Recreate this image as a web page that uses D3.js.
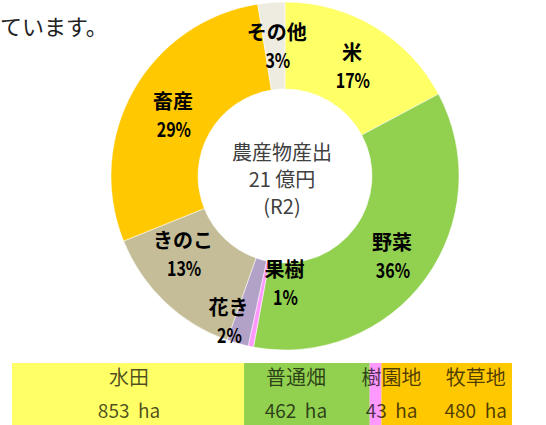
<!DOCTYPE html>
<html>
<head>
<meta charset="utf-8">
<script src="https://cdn.jsdelivr.net/npm/d3@7"></script>
<style>
  body { margin: 0; background: #fff; }
  svg { display: block; font-family: "Noto Sans CJK JP", "Noto Sans", sans-serif; }
</style>
</head>
<body>
<div id="chart"></div>
<script>
// donut data (share of output)
var categories = ["米", "野菜", "果樹", "花き", "きのこ", "畜産", "その他"];
var shares = [17.2, 35.7, 0.5, 2.0, 13.5, 28.6, 2.5];
var pctLabels = ["17%", "36%", "1%", "2%", "13%", "29%", "3%"];
var colors = ["#FFFF66", "#92D050", "#FF99FF", "#B3A2C7", "#C4BD97", "#FFC800", "#EEECE1"];

// land use bar
var landNames = ["水田", "普通畑", "樹園地", "牧草地"];
var landArea = [853, 462, 43, 480];
var landColors = ["#FFFF66", "#92D050", "#FF99FF", "#FFC800"];

var centerLines = ["農産物産出", "21 億円", "(R2)"];

var width = 546, height = 425;

var svg = d3.select("#chart").append("svg")
    .attr("width", width)
    .attr("height", height);

// cut-off sentence from the page
svg.append("text")
    .attr("x", 0)
    .attr("y", 35)
    .attr("font-size", 22)
    .attr("fill", "#222")
    .text("ています。");

// donut
var cx = 285, cy = 176;
var pie = d3.pie().sort(null).value(function (d) { return d; });
var arc = d3.arc().innerRadius(87).outerRadius(174);
var labelArc = d3.arc().innerRadius(130).outerRadius(130);

var g = svg.append("g").attr("transform", "translate(" + cx + "," + cy + ")");
var arcs = pie(shares);

g.selectAll("path")
    .data(arcs)
    .enter()
    .append("path")
    .attr("d", arc)
    .attr("fill", function (d, i) { return colors[i]; })
    .attr("stroke", "#fff")
    .attr("stroke-width", 0.5);

// some labels were nudged by hand in the original
var nudge = [[0, 0], [2, 2], [25, -21], [-21, 19], [-12, -17], [1, 2], [2, -1]];

var lab = g.selectAll("g.lab")
    .data(arcs)
    .enter()
    .append("g")
    .attr("class", "lab")
    .attr("transform", function (d, i) {
        var c = labelArc.centroid(d);
        return "translate(" + (c[0] + nudge[i][0]) + "," + (c[1] + nudge[i][1]) + ")";
    });

lab.append("text")
    .attr("text-anchor", "middle")
    .attr("y", -5)
    .attr("font-size", 20)
    .attr("font-weight", "bold")
    .attr("fill", "#000")
    .text(function (d, i) { return categories[i]; });

// narrow digits like the original font
lab.append("text")
    .attr("text-anchor", "middle")
    .attr("transform", "translate(1,23) scale(0.8,1)")
    .attr("font-size", 20)
    .attr("font-weight", "bold")
    .attr("fill", "#000")
    .text(function (d, i) { return pctLabels[i]; });

// centre text
g.selectAll("text.center")
    .data(centerLines)
    .enter()
    .append("text")
    .attr("class", "center")
    .attr("text-anchor", "middle")
    .attr("x", -3)
    .attr("y", function (d, i) { return -16 + 27 * i; })
    .attr("font-size", 20)
    .attr("fill", "#404040")
    .text(function (d) { return d; });

// stacked land bar
var total = d3.sum(landArea);
var x = d3.scaleLinear().domain([0, total]).range([12, 512]);
var starts = [];
landArea.reduce(function (acc, v, i) { starts[i] = acc; return acc + v; }, 0);

var barY = 363, barH = 62;
var bar = svg.append("g");
bar.selectAll("rect")
    .data(landArea)
    .enter()
    .append("rect")
    .attr("x", function (d, i) { return x(starts[i]); })
    .attr("y", barY)
    .attr("width", function (d) { return x(d) - x(0); })
    .attr("height", barH)
    .attr("fill", function (d, i) { return landColors[i]; });

// label centres offset from segment middles (small segment labels spill over)
var landDx = [1, -11, 16, 29];
var landText = bar.selectAll("g.land")
    .data(landArea)
    .enter()
    .append("g")
    .attr("class", "land")
    .attr("transform", function (d, i) {
        return "translate(" + (x(starts[i] + d / 2) + landDx[i]) + ",0)";
    });

landText.append("text")
    .attr("text-anchor", "middle")
    .attr("y", 385)
    .attr("font-size", 20)
    .attr("fill", "#000")
    .attr("fill-opacity", 0.7)
    .text(function (d, i) { return landNames[i]; });

landText.append("text")
    .attr("text-anchor", "middle")
    .attr("y", 418)
    .attr("font-size", 19)
    .attr("fill", "#000")
    .attr("fill-opacity", 0.7)
    .style("white-space", "pre")
    .text(function (d) { return d + "  ha"; });
</script>
</body>
</html>
